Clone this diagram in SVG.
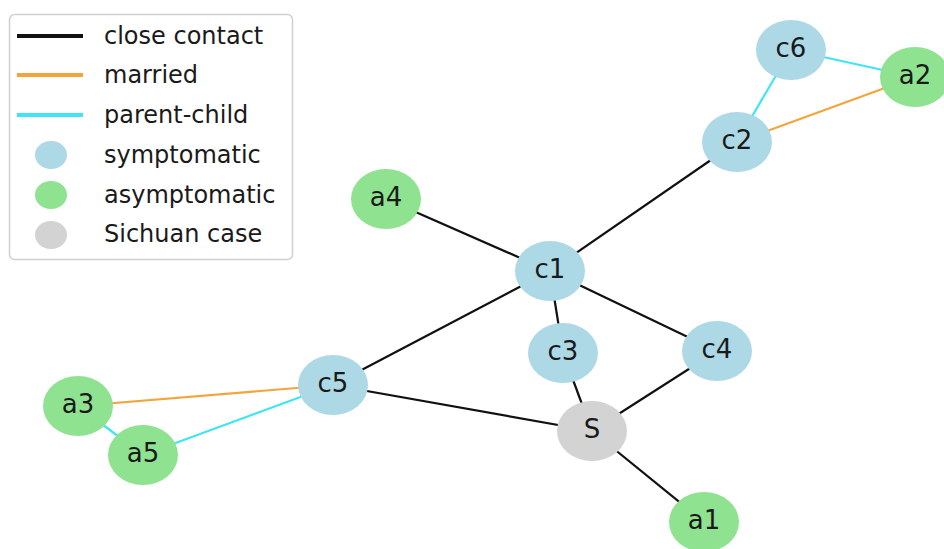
<svg xmlns="http://www.w3.org/2000/svg" width="944" height="549" viewBox="0 0 944 549">
<style>
text{font-family:"DejaVu Sans",sans-serif;fill:#1a1a1a}
.lbl{font-size:26px;text-anchor:middle;dominant-baseline:central}
.leg{font-size:24px;dominant-baseline:central}
.e{stroke-width:2.2;fill:none}
.k{stroke:#111}
.o{stroke:#f4a43a}
.cy{stroke:#3ee6f2}
.sym{fill:#add8e6}
.asy{fill:#8fe28f}
.sc{fill:#d3d3d3}
</style>
<rect width="944" height="549" fill="#fff"/>
<g id="edges">
<line class="e cy" x1="791" y1="50" x2="915" y2="77"/>
<line class="e cy" x1="791" y1="50" x2="737" y2="142"/>
<line class="e o" x1="737" y1="142" x2="915" y2="77"/>
<line class="e k" x1="737" y1="142" x2="550" y2="271"/>
<line class="e k" x1="386" y1="199" x2="550" y2="271"/>
<line class="e k" x1="550" y1="271" x2="333" y2="385"/>
<line class="e k" x1="550" y1="271" x2="563" y2="353"/>
<line class="e k" x1="550" y1="271" x2="717" y2="351"/>
<line class="e k" x1="563" y1="353" x2="592" y2="431"/>
<line class="e k" x1="717" y1="351" x2="592" y2="431"/>
<line class="e k" x1="333" y1="385" x2="592" y2="431"/>
<line class="e k" x1="592" y1="431" x2="704" y2="522"/>
<line class="e o" x1="78" y1="406" x2="333" y2="385"/>
<line class="e cy" x1="143" y1="455" x2="333" y2="385"/>
<line class="e cy" x1="78" y1="406" x2="143" y2="455"/>
</g>
<g id="c6"><ellipse class="sym" cx="791" cy="50" rx="35" ry="30"/><text class="lbl" x="791" y="48">c6</text></g>
<g id="a2"><ellipse class="asy" cx="915" cy="77" rx="35" ry="30"/><text class="lbl" x="915" y="75">a2</text></g>
<g id="c2"><ellipse class="sym" cx="737" cy="142" rx="35" ry="30"/><text class="lbl" x="737" y="140">c2</text></g>
<g id="a4"><ellipse class="asy" cx="386" cy="199" rx="35" ry="30"/><text class="lbl" x="386" y="197">a4</text></g>
<g id="c1"><ellipse class="sym" cx="550" cy="271" rx="35" ry="30"/><text class="lbl" x="550" y="269">c1</text></g>
<g id="c3"><ellipse class="sym" cx="563" cy="353" rx="35" ry="30"/><text class="lbl" x="563" y="351">c3</text></g>
<g id="c4"><ellipse class="sym" cx="717" cy="351" rx="35" ry="30"/><text class="lbl" x="717" y="349">c4</text></g>
<g id="c5"><ellipse class="sym" cx="333" cy="385" rx="35" ry="30"/><text class="lbl" x="333" y="383">c5</text></g>
<g id="S"><ellipse class="sc" cx="592" cy="431" rx="35" ry="30"/><text class="lbl" x="592" y="429">S</text></g>
<g id="a1"><ellipse class="asy" cx="704" cy="522" rx="35" ry="30"/><text class="lbl" x="704" y="520">a1</text></g>
<g id="a3"><ellipse class="asy" cx="78" cy="406" rx="35" ry="30"/><text class="lbl" x="78" y="404">a3</text></g>
<g id="a5"><ellipse class="asy" cx="143" cy="455" rx="35" ry="30"/><text class="lbl" x="143" y="453">a5</text></g>
<g id="legend">
<rect x="9.5" y="14.5" width="283" height="245" rx="5" fill="#fff" fill-opacity="0.85" stroke="#d0d0d0" stroke-width="1.5"/>
<line x1="17" y1="36" x2="83" y2="36" stroke="#111" stroke-width="4"/>
<line x1="17" y1="75" x2="83" y2="75" stroke="#f4a43a" stroke-width="4"/>
<line x1="17" y1="115" x2="83" y2="115" stroke="#3ee6f2" stroke-width="4"/>
<ellipse class="sym" cx="51" cy="155" rx="16" ry="14"/>
<ellipse class="asy" cx="51" cy="195" rx="16" ry="14"/>
<ellipse class="sc" cx="51" cy="235" rx="16" ry="14"/>
<text class="leg" x="104" y="36">close contact</text>
<text class="leg" x="104" y="75">married</text>
<text class="leg" x="104" y="115">parent-child</text>
<text class="leg" x="104" y="155">symptomatic</text>
<text class="leg" x="104" y="195">asymptomatic</text>
<text class="leg" x="104" y="234">Sichuan case</text>
</g>
</svg>
